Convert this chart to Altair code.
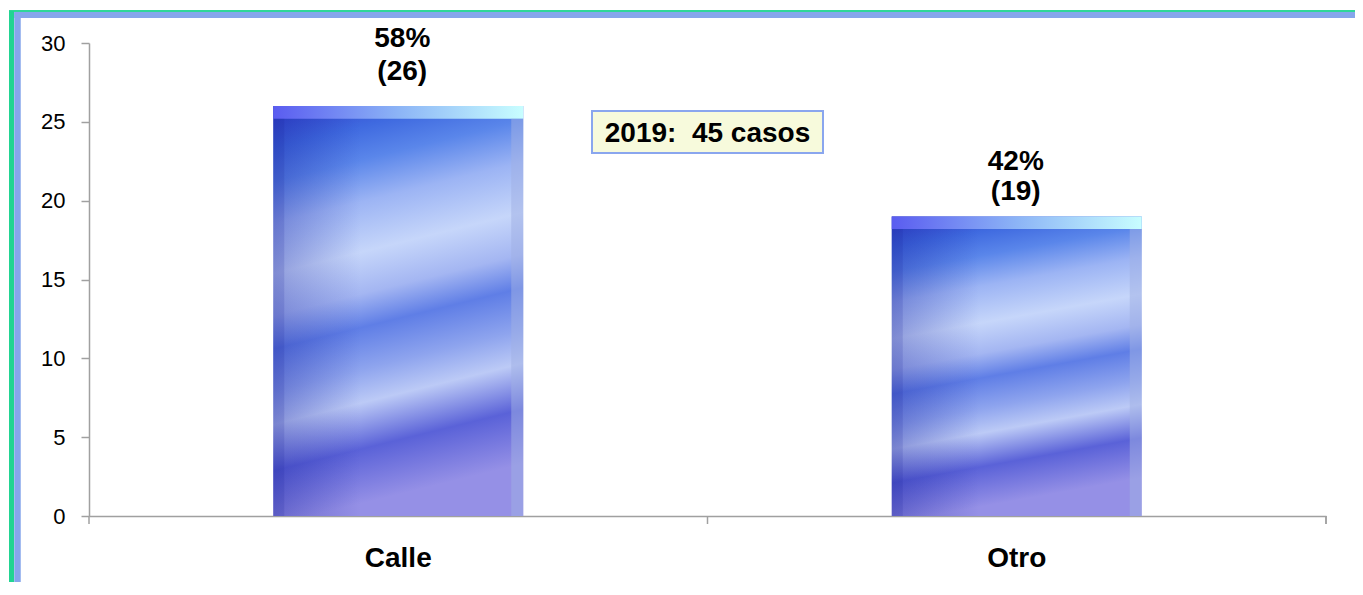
import altair as alt
import pandas as pd

categories = ["Calle", "Otro"]
values = [26, 19]
percents = ["58%", "42%"]
annotation = "2019:\u00a0 45 casos"
y_ticks = [0, 5, 10, 15, 20, 25, 30]

df = pd.DataFrame({"cat": categories, "value": values, "pct": percents})

W, H = 1237, 473
FONT = "Liberation Sans"

x_enc = alt.X("cat:N", sort=categories, scale=alt.Scale(paddingInner=0, paddingOuter=0),
              axis=alt.Axis(title=None, labelFontSize=28, labelFontWeight="bold", labelColor="black",
                            labelFont=FONT, ticks=False, domainColor="#a0a0a0", domainWidth=1.5,
                            labelPadding=28, labelAngle=0))
y_enc = alt.Y("value:Q", scale=alt.Scale(domain=[0, 30], nice=False),
              axis=alt.Axis(title=None, values=y_ticks, grid=False, labelFontSize=22, labelColor="black",
                            labelFont=FONT, tickSize=8, tickColor="#a0a0a0", tickWidth=1.5,
                            domainColor="#a0a0a0", domainWidth=1.5, labelPadding=16))

base = alt.Chart(df)
xc = alt.X("cat:N", sort=categories)

bar_grad = alt.Gradient(
    gradient="linear", x1=0, y1=0, x2=0.15, y2=1,
    stops=[
        alt.GradientStop(offset=0.0, color="#3040cc"),
        alt.GradientStop(offset=0.10, color="#3f6ae0"),
        alt.GradientStop(offset=0.18, color="#5a86ea"),
        alt.GradientStop(offset=0.28, color="#9cb4f4"),
        alt.GradientStop(offset=0.40, color="#c6d6fa"),
        alt.GradientStop(offset=0.50, color="#a4b6f2"),
        alt.GradientStop(offset=0.58, color="#5f7ee6"),
        alt.GradientStop(offset=0.68, color="#8ea4ee"),
        alt.GradientStop(offset=0.76, color="#bccaf6"),
        alt.GradientStop(offset=0.87, color="#5a62d8"),
        alt.GradientStop(offset=1.0, color="#9590e6"),
    ],
)

bars = base.mark_bar(size=250, color=bar_grad).encode(x=x_enc, y=y_enc)

shade_grad = alt.Gradient(
    gradient="linear", x1=0, y1=0, x2=1, y2=0,
    stops=[alt.GradientStop(offset=0, color="rgba(20,25,150,0.30)"),
           alt.GradientStop(offset=0.35, color="rgba(20,25,150,0.0)"),
           alt.GradientStop(offset=1, color="rgba(20,25,150,0.0)")],
)
shade = base.mark_bar(size=250, color=shade_grad).encode(x=xc, y="value:Q")

top_grad = alt.Gradient(
    gradient="linear", x1=0, y1=0, x2=1, y2=0,
    stops=[alt.GradientStop(offset=0, color="#5a5cf0"),
           alt.GradientStop(offset=0.5, color="#8cb4f6"),
           alt.GradientStop(offset=1, color="#c8feff")],
)
top_bevel = base.transform_calculate(low="datum.value - 0.8").mark_bar(size=250, color=top_grad).encode(
    x=xc, y="value:Q", y2="low:Q")

left_bevel = base.transform_calculate(top="datum.value - 0.8").mark_bar(
    size=11, xOffset=-119.5, color="#1a1f9a", opacity=0.15).encode(x=xc, y="top:Q")
right_bevel = base.transform_calculate(top="datum.value - 0.8").mark_bar(
    size=12, xOffset=119, color="#9fb0e4", opacity=0.5).encode(x=xc, y="top:Q")

lbl_base = base.transform_calculate(lbl="[datum.pct, '(' + datum.value + ')']")
label_style = dict(fontSize=28, fontWeight="bold", font=FONT, color="black", baseline="alphabetic")
labels_a = lbl_base.transform_filter("datum.cat == 'Calle'").mark_text(
    dx=4, dy=-59, lineHeight=33, **label_style).encode(x=xc, y="value:Q", text="lbl:N")
labels_b = lbl_base.transform_filter("datum.cat != 'Calle'").mark_text(
    dx=-1, dy=-46, lineHeight=30, **label_style).encode(x=xc, y="value:Q", text="lbl:N")

x_ticks = base.mark_rule(color="#a0a0a0", strokeWidth=1.5).encode(
    x=alt.X("cat:N", sort=categories, bandPosition=0), y=alt.value(H), y2=alt.value(H + 8))
end_tick = base.mark_rule(color="#a0a0a0", strokeWidth=1.5).encode(
    x=alt.value(W), y=alt.value(H), y2=alt.value(H + 8))

box = base.mark_rect(fill="#f7fadc", stroke="#8aa6ee", strokeWidth=2).encode(
    x=alt.value(503), x2=alt.value(734), y=alt.value(68), y2=alt.value(110))
box_text = alt.Chart(pd.DataFrame({"t": [annotation]})).mark_text(
    fontSize=28, fontWeight="bold", font=FONT, color="black", baseline="alphabetic").encode(
    x=alt.value(W / 2), y=alt.value(99), text="t:N")

frame_green_v = base.mark_rule(color="#22d492", strokeWidth=5).encode(
    x=alt.value(-77.5), y=alt.value(-32), y2=alt.value(H + 70))
frame_green_h = base.mark_rule(color="#22d492", strokeWidth=1.5).encode(
    x=alt.value(-80), x2=alt.value(W + 30), y=alt.value(-32))
frame_blue_v = base.mark_rule(color="#86a6ec", strokeWidth=6).encode(
    x=alt.value(-71.5), y=alt.value(-31), y2=alt.value(H + 70))
frame_blue_h = base.mark_rule(color="#86a6ec", strokeWidth=6).encode(
    x=alt.value(-74.5), x2=alt.value(W + 30), y=alt.value(-28))

chart = alt.layer(
    bars, shade, top_bevel, left_bevel, right_bevel, labels_a, labels_b, x_ticks, end_tick, box, box_text,
    frame_green_v, frame_green_h, frame_blue_v, frame_blue_h
).properties(
    width=W, height=H,
    autosize=alt.AutoSizeParams(type="none"),
    padding={"left": 81, "top": 35, "right": 29, "bottom": 66},
).configure_view(stroke=None)

chart.save("out.html", embed_options={"renderer": "svg", "actions": False})
